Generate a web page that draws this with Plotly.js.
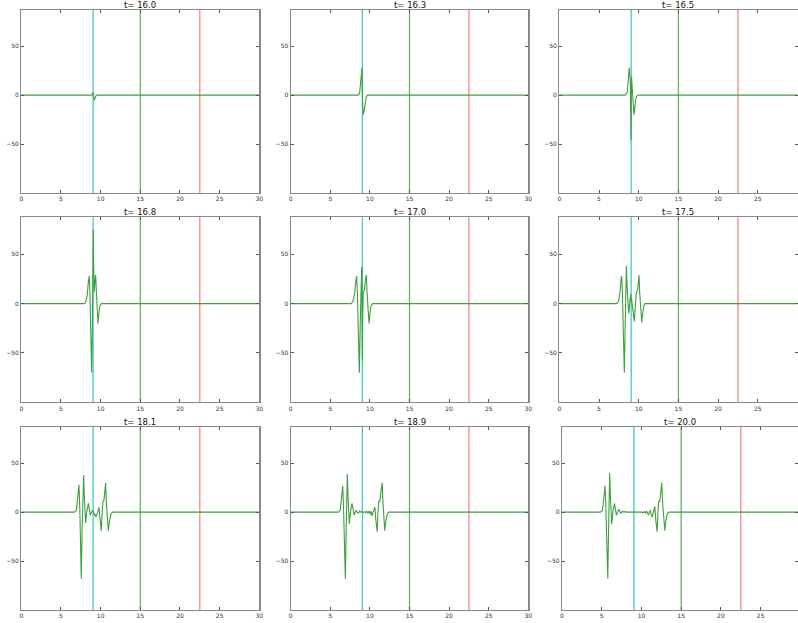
<!DOCTYPE html>
<html>
<head>
<meta charset="utf-8">
<script src="https://cdn.plot.ly/plotly-3.0.1.min.js"></script>
<style>html,body{margin:0;padding:0;background:#fff;overflow:hidden}#plot{width:798px;height:623px}</style>
</head>
<body>
<div id="plot"></div>
<script>
// Panel titles (time values)
const times = ["16.0", "16.3", "16.5", "16.8", "17.0", "17.5", "18.1", "18.9", "20.0"];
// Vertical marker positions
const markerX = [9.05, 15, 22.5];
// Waveform samples, one pair of arrays per panel
const x1 = [0, 8.9, 9.0, 9.07, 9.12, 9.2, 9.3, 9.45, 30];
const y1 = [0, 0, 2, 3, -2, -5, -3, 0, 0];
const x2 = [0, 8.5, 8.7, 8.85, 8.95, 9.0, 9.03, 9.08, 9.15, 9.25, 9.4, 9.55, 9.7, 30];
const y2 = [0, 0, 2, 12, 24, 28, 5, -12, -20, -17, -8, -2, 0, 0];
const x3 = [0, 8.3, 8.55, 8.72, 8.82, 8.9, 8.97, 9.03, 9.07, 9.1, 9.2, 9.32, 9.4, 9.5, 9.6, 9.75, 9.9, 30];
const y3 = [0, 0, 3, 20, 28, 18, 5, -46, -10, 19, 5, -15, -20, -14, -5, -1, 0, 0];
const x4 = [0, 7.9, 8.1, 8.3, 8.45, 8.57, 8.65, 8.75, 8.87, 8.95, 9.02, 9.08, 9.12, 9.2, 9.28, 9.37, 9.45, 9.55, 9.66, 9.78, 9.9, 10.1, 30];
const y4 = [0, 0, 1, 8, 22, 28, 10, -40, -70, -30, 40, 75, 40, 12, 22, 29, 15, -10, -20, -10, -2, 0, 0];
const x5 = [0, 7.6, 7.85, 8.1, 8.25, 8.33, 8.42, 8.55, 8.67, 8.78, 8.9, 8.96, 9.0, 9.04, 9.1, 9.17, 9.3, 9.45, 9.55, 9.65, 9.8, 9.89, 10.0, 10.15, 10.35, 30];
const y5 = [0, 0, 2, 12, 25, 28, 10, -40, -70, -20, 25, 37, 0, -58, -10, 12, 13, 25, 29, 10, -15, -20, -10, -2, 0, 0];
const x6 = [0, 7.2, 7.45, 7.65, 7.78, 7.86, 7.95, 8.05, 8.19, 8.3, 8.4, 8.45, 8.55, 8.66, 8.74, 8.85, 8.95, 8.99, 9.05, 9.1, 9.2, 9.35, 9.45, 9.55, 9.65, 9.72, 9.85, 9.95, 10.04, 10.12, 10.28, 10.38, 10.5, 10.65, 10.8, 30];
const y6 = [0, 0, 2, 12, 25, 28, 10, -40, -70, -20, 25, 38, 15, -8, -10, -2, 8, 10, 2, 5, -2, -15, -18, -5, 10, 12, 13, 25, 29, 12, -12, -19, -10, -2, 0, 0];
const x7 = [0, 6.7, 6.95, 7.15, 7.27, 7.37, 7.47, 7.56, 7.66, 7.8, 7.86, 7.95, 8.11, 8.25, 8.45, 8.58, 8.7, 8.85, 9.0, 9.1, 9.2, 9.3, 9.41, 9.55, 9.7, 9.79, 9.9, 10.08, 10.2, 10.3, 10.42, 10.55, 10.63, 10.72, 10.88, 10.97, 11.1, 11.3, 11.5, 30];
const y7 = [0, 0, 2, 15, 28, 5, -45, -68, -20, 30, 38, 15, -11, 0, 9, 3, -3, 0, 2, 0, -3, -2, -5, -2, 4, 5, -5, -19, 0, 11, 12, 25, 30, 10, -15, -19, -10, -2, 0, 0];
const x8 = [0, 6.0, 6.25, 6.45, 6.57, 6.67, 6.78, 6.9, 7.0, 7.1, 7.15, 7.25, 7.4, 7.55, 7.74, 7.88, 8.03, 8.15, 8.28, 8.4, 8.55, 8.7, 8.85, 9.0, 9.15, 9.3, 9.45, 9.6, 9.75, 9.9, 10.05, 10.15, 10.25, 10.4, 10.55, 10.63, 10.75, 10.92, 11.02, 11.12, 11.25, 11.45, 11.55, 11.65, 11.8, 11.88, 12.0, 12.2, 12.38, 30];
const y8 = [0, 0, 2, 15, 27, 5, -45, -68, -20, 30, 39, 15, -12, 0, 9, 3, -3, 0, 2, 0, -1, 1, 0, 0.5, -0.5, 0.5, -0.5, 1, -1, 1, -2, 1, -4, 0, 5, 5, -8, -20, 0, 11, 11, 25, 30, 10, -15, -19, -10, -2, 0, 0];
const x9 = [0, 4.85, 5.1, 5.3, 5.42, 5.52, 5.64, 5.76, 5.86, 5.96, 6.0, 6.1, 6.26, 6.4, 6.6, 6.72, 6.85, 7.0, 7.18, 7.3, 7.45, 7.6, 7.75, 7.9, 8.1, 10.0, 10.2, 10.35, 10.5, 10.65, 10.75, 10.88, 11.0, 11.1, 11.2, 11.34, 11.5, 11.6, 11.68, 11.8, 11.97, 12.07, 12.17, 12.3, 12.48, 12.56, 12.66, 12.82, 12.94, 13.05, 13.25, 13.45, 30];
const y9 = [0, 0, 2, 15, 27, 5, -45, -68, -20, 30, 40, 15, -12, 0, 9, 3, -3, 0, 3, 0, -1, 1, 0, 0.5, 0, 0, -0.5, 0.5, -1, 1, -1, -3, 0, 2, -2, -5, 0, 5, 6, -8, -20, 0, 11, 11, 25, 30, 10, -15, -19, -10, -2, 0, 0];
const xTicks = [0, 5, 10, 15, 20, 25, 30];
const yTicks = [50, 0, -50];

const waves = [[x1, y1], [x2, y2], [x3, y3], [x4, y4], [x5, y5], [x6, y6], [x7, y7], [x8, y8], [x9, y9]];
const markerColors = ["rgb(64,200,205)", "rgb(100,180,100)", "rgb(255,130,130)"];

const W = 798, H = 623;
const colPx = [[21.3, 259.3], [290.7, 528.3], [559.3, 797.5]];
const rowPx = [[9.5, 193], [217.3, 402.3], [426.5, 610]];

const traces = [], shapes = [], annotations = [];
const layout = {
  width: W, height: H, margin: {l: 0, r: 0, t: 0, b: 0},
  paper_bgcolor: "#fff", plot_bgcolor: "#fff", showlegend: false,
  font: {family: "DejaVu Sans, sans-serif", size: 6, color: "#333"}
};

for (let i = 0; i < 9; i++) {
  const r = Math.floor(i / 3), c = i % 3;
  const n = i + 1;
  const xa = "xaxis" + (n === 1 ? "" : n), ya = "yaxis" + (n === 1 ? "" : n);
  const xr = "x" + (n === 1 ? "" : n), yr = "y" + (n === 1 ? "" : n);
  let cx = colPx[c].slice();
  let xmax = 30;
  if (i === 8) { cx = [562, 798]; xmax = 29.7; }
  const ry = rowPx[r];
  layout[xa] = {
    domain: [cx[0] / W, cx[1] / W], range: [0, xmax], anchor: yr,
    tickvals: xTicks, ticks: "inside", ticklen: 3, tickcolor: "#555",
    showline: true, linecolor: "#888", linewidth: 1, mirror: "allticks",
    showgrid: false, zeroline: false, tickfont: {size: 6, color: "#333"}
  };
  layout[ya] = {
    domain: [1 - ry[1] / H, 1 - ry[0] / H], range: [-100, 87.5], anchor: xr,
    tickvals: yTicks, ticks: "inside", ticklen: 3, tickcolor: "#555",
    showline: true, linecolor: "#888", linewidth: 1.2, mirror: "allticks",
    showgrid: false, zeroline: false, tickfont: {size: 6, color: "#333"}
  };
  markerX.forEach((mx, k) => {
    shapes.push({type: "line", xref: xr, yref: yr + " domain", x0: mx, x1: mx, y0: 0, y1: 1,
      line: {color: markerColors[k], width: 1.3}, layer: "below"});
  });
  traces.push({
    x: waves[i][0], y: waves[i][1], xaxis: xr, yaxis: yr, type: "scatter", mode: "lines",
    line: {color: "rgb(60,160,60)", width: 1.1},
    hoverinfo: "skip"
  });
  annotations.push({
    text: "t= " + times[i], xref: xr + " domain", yref: yr + " domain", x: 0.5, y: 1,
    yanchor: "middle", xanchor: "center", yshift: 5, showarrow: false,
    font: {size: 8.5, color: "#111", family: "DejaVu Sans, sans-serif"}
  });
}
layout.shapes = shapes;
layout.annotations = annotations;
Plotly.newPlot("plot", traces, layout, {staticPlot: true, displayModeBar: false});
</script>
</body>
</html>
